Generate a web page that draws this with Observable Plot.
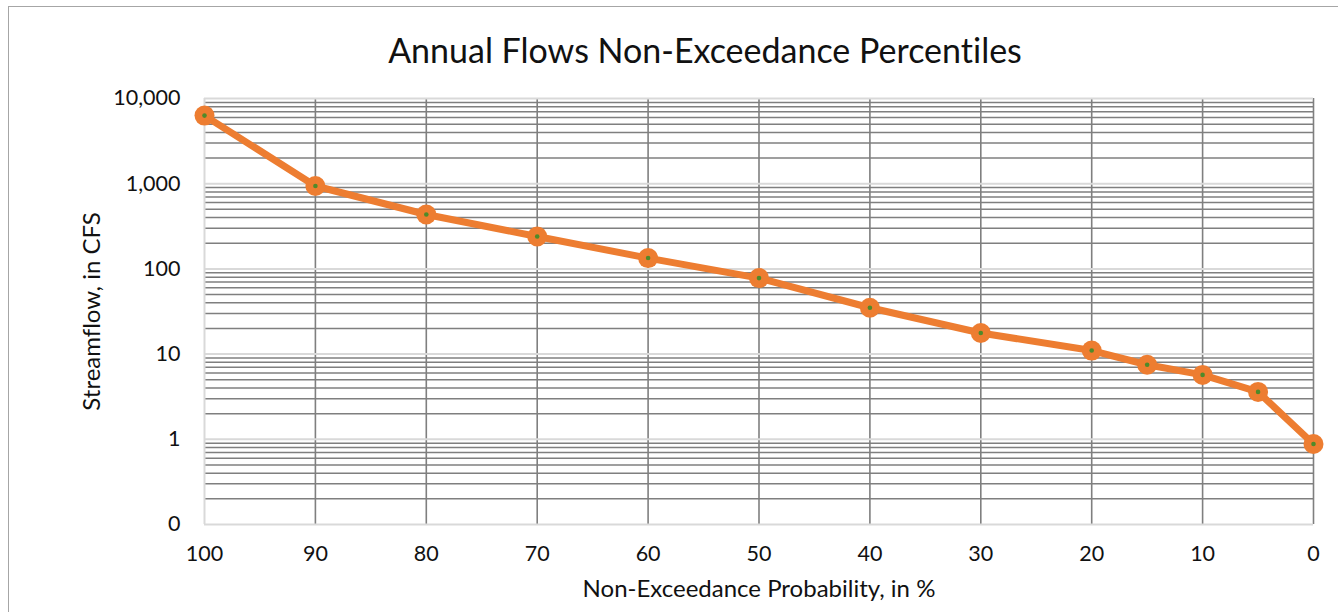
<!DOCTYPE html>
<html><head><meta charset="utf-8">
<script src="https://cdn.jsdelivr.net/npm/d3@7"></script>
<script src="https://cdn.jsdelivr.net/npm/@observablehq/plot@0.6"></script>
<style>
html,body{margin:0;padding:0;background:#fff;overflow:hidden;width:1338px;height:612px;}
#wrap{position:relative;width:1338px;height:612px;font-family:Lato,"Open Sans",sans-serif;color:#111;font-variant-ligatures:none;}
#border{position:absolute;left:8px;top:6px;width:1400px;height:700px;border:1px solid #a6a6a6;box-sizing:border-box;pointer-events:none;}
#title{position:relative;height:80px;}
#title span{position:absolute;left:0;width:1410px;text-align:center;top:33px;font-size:34px;line-height:34px;font-variant-ligatures:none;}
#chart svg{display:block;font-variant-ligatures:none;}
#chart svg g[aria-label="x-axis label"] text,
#chart svg g[aria-label="y-axis label"] text{font-size:24px;}
</style>
</head><body>
<div id="wrap">
<div id="border"></div>
<div id="title"><span>Annual Flows Non-Exceedance Percentiles</span></div>
<div id="chart"></div>
</div>
<script>
// Data
const percentiles = [100, 90, 80, 70, 60, 50, 40, 30, 20, 15, 10, 5, 0];
const streamflow  = [6300, 940, 435, 240, 134, 78, 35, 17.7, 11, 7.5, 5.7, 3.6, 0.88];
const xTicks = [100, 90, 80, 70, 60, 50, 40, 30, 20, 10, 0];
const yTicks = [0.1, 1, 10, 100, 1000, 10000];
const minorMultipliers = [2, 3, 4, 5, 6, 7, 8, 9];

const data = percentiles.map((p, i) => ({p, v: streamflow[i]}));
const minorY = yTicks.slice(0, -1).flatMap(d => minorMultipliers.map(m => m * d));
const yFmt = d => d < 1 ? "0" : d3.format(",")(d);

const chart = Plot.plot({
  width: 1338,
  height: 532,
  marginLeft: 204,
  marginRight: 25,
  marginTop: 18,
  marginBottom: 88,
  style: {fontFamily: "Lato, 'Open Sans', sans-serif", fontSize: "21.5px", color: "#111", background: "#fff"},
  x: {type: "linear", domain: [100, 0]},
  y: {type: "log", domain: [0.1, 10000]},
  marks: [
    Plot.ruleY(minorY, {stroke: "#7f7f7f", strokeWidth: 1.5, strokeOpacity: 1}),
    Plot.ruleX(xTicks.filter(d => d !== 100), {stroke: "#7f7f7f", strokeWidth: 1.6, strokeOpacity: 1}),
    Plot.ruleY(yTicks, {stroke: "#d9d9d9", strokeWidth: 2, strokeOpacity: 1}),
    Plot.ruleX([100], {stroke: "#d9d9d9", strokeWidth: 2, strokeOpacity: 1}),
    Plot.axisX({ticks: xTicks, tickSize: 0, tickPadding: 21, label: "Non-Exceedance Probability, in %", labelAnchor: "center", labelArrow: "none", labelOffset: 72}),
    Plot.axisY({ticks: yTicks, tickSize: 0, tickPadding: 24, tickFormat: yFmt, label: "Streamflow, in CFS", labelAnchor: "center", labelArrow: "none", labelOffset: 122}),
    Plot.line(data, {x: "p", y: "v", stroke: "#ED7D31", strokeWidth: 7, strokeLinejoin: "round", strokeLinecap: "round"}),
    Plot.dot(data, {x: "p", y: "v", r: 10, fill: "#ED7D31", stroke: "none"}),
    Plot.dot(data, {x: "p", y: "v", r: 2.3, fill: "#4f8a2a", stroke: "none"})
  ]
});
document.getElementById("chart").appendChild(chart);
</script>
</body></html>
